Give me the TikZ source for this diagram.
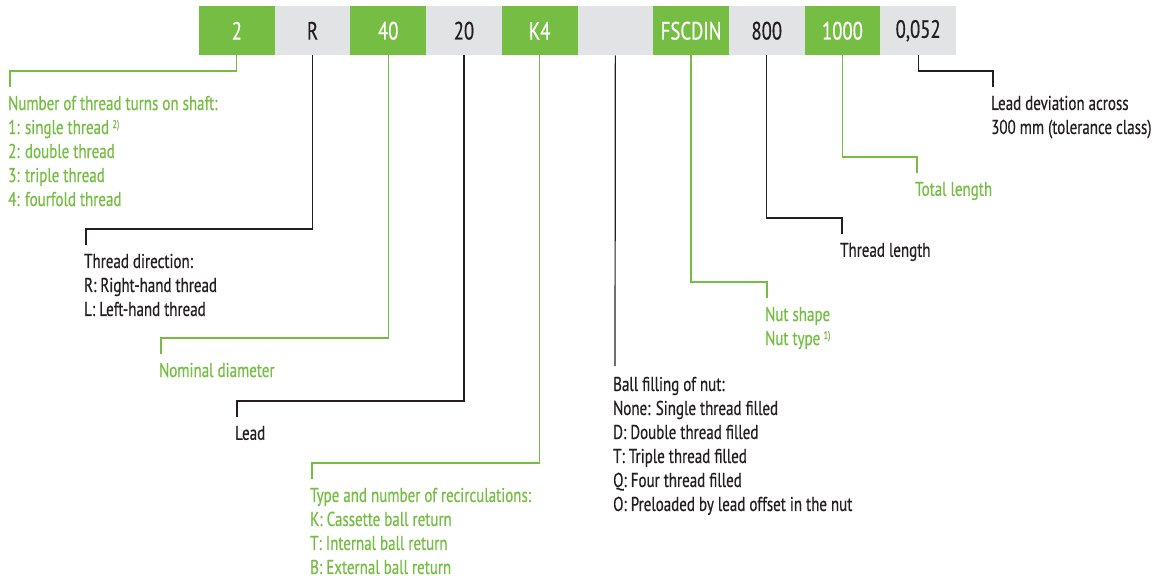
\documentclass[tikz,border=0pt]{standalone}
\usepackage{fontspec}
\setmainfont[FakeStretch=0.75,FakeBold=0.5]{PT Sans}
\usetikzlibrary{positioning}

\definecolor{lgreen}{RGB}{118,190,67}
\definecolor{lgray}{RGB}{226,227,229}
\definecolor{dark}{RGB}{35,31,32}

% footnote mark after a text
\newcommand{\fnmark}[1]{\,\raisebox{6pt}{\fontsize{11}{11}\selectfont #1}}
% elbow line from a code box down to its explanation
\newcommand{\leadline}[3]{%
  \draw[#1,line width=1.2pt] (#2.south) |- ([xshift=2pt,yshift=24.6pt]#3.north west)
    -- ([xshift=2pt,yshift=8.6pt]#3.north west);}

\begin{document}
\begin{tikzpicture}[x=1pt,y=-1pt,node distance=0pt,
  box/.style={minimum width=75.7pt,minimum height=49.5pt,inner sep=0pt,
              outer sep=0pt,font=\fontsize{25}{30}\selectfont},
  gbox/.style={box,fill=lgreen,text=white},
  wbox/.style={box,fill=lgray,text=dark},
  note/.style={anchor=north west,inner sep=0pt,align=left,
               font=\fontsize{20}{24}\selectfont},
  gnote/.style={note,text=lgreen},
  dnote/.style={note,text=dark}]
  \useasboundingbox (0,0) rectangle (1161,578);

  % code row
  \node[gbox] (turns) at (236.85,30.75) {2};
  \node[wbox,right=of turns]  (dir)    {R};
  \node[gbox,right=of dir]    (diam)   {40};
  \node[wbox,right=of diam]   (lead)   {20};
  \node[gbox,right=of lead]   (recirc) {K4};
  \node[wbox,right=of recirc] (fill)   {};
  \node[gbox,right=of fill]   (nut)    {FSCDIN};
  \node[wbox,right=of nut]    (thrlen) {800};
  \node[gbox,right=of thrlen] (totlen) {1000};
  \node[wbox,right=of totlen] (dev)    {0,052};

  % explanations (placed by the top of their first line)
  \node[gnote] (turns-txt) at (8,95.6) {Number of thread turns on shaft:\\
    1: single thread\fnmark{2)}\\2: double thread\\3: triple thread\\4: fourfold thread};
  \node[dnote] (dir-txt) at (84,253.6) {Thread direction:\\R: Right-hand thread\\L: Left-hand thread};
  \node[gnote] (diam-txt) at (159,362.6) {Nominal diameter};
  \node[dnote] (lead-txt) at (235,425.6) {Lead};
  \node[gnote] (recirc-txt) at (310,487.6) {Type and number of recirculations:\\
    K: Cassette ball return\\T: Internal ball return\\B: External ball return};
  \node[dnote] (fill-txt) at (613,376.6) {Ball filling of nut:\\None: Single thread filled\\
    D: Double thread filled\\T: Triple thread filled\\Q: Four thread filled\\
    O: Preloaded by lead offset in the nut};
  \node[gnote] (nut-txt) at (765,306.6) {Nut shape\\Nut type\fnmark{1)}};
  \node[dnote] (thrlen-txt) at (840,242.6) {Thread length};
  \node[gnote] (totlen-txt) at (915,181.6) {Total length};
  \node[dnote] (dev-txt) at (991,95.6) {Lead deviation across\\300 mm (tolerance class)};

  % leader lines
  \leadline{lgreen}{turns}{turns-txt}
  \leadline{dark}{dir}{dir-txt}
  \leadline{lgreen}{diam}{diam-txt}
  \leadline{dark}{lead}{lead-txt}
  \leadline{lgreen}{recirc}{recirc-txt}
  \draw[dark,line width=1.2pt] (fill.south) -- ([xshift=2pt,yshift=10.6pt]fill-txt.north west);
  \leadline{lgreen}{nut}{nut-txt}
  \leadline{dark}{thrlen}{thrlen-txt}
  \leadline{lgreen}{totlen}{totlen-txt}
  \leadline{dark}{dev}{dev-txt}
\end{tikzpicture}
\end{document}
